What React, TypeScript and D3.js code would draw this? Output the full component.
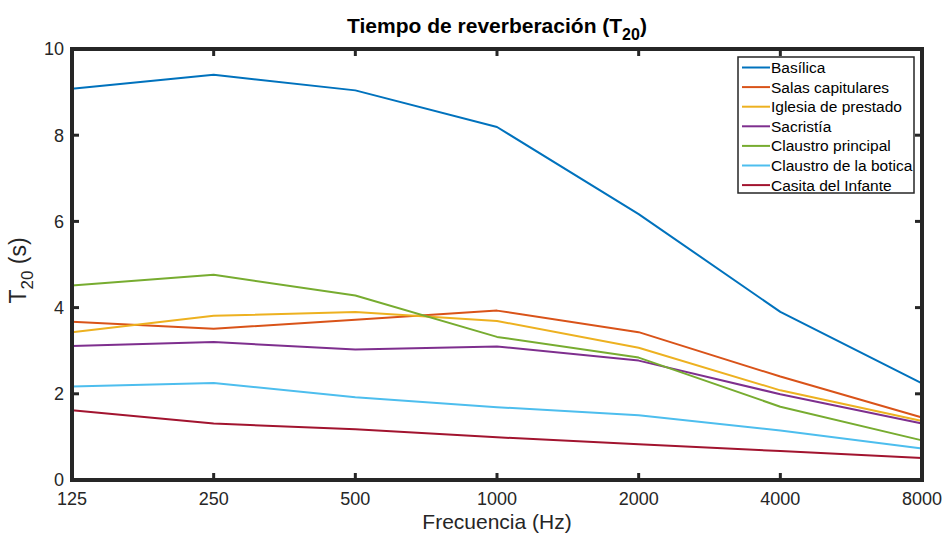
import { useEffect, useRef } from 'react';
import * as d3 from 'd3';

// frequencies (Hz) on the x axis
const frequencies = [125, 250, 500, 1000, 2000, 4000, 8000];
const yTicks = [0, 2, 4, 6, 8, 10];

// T20 (s) per room, one value per frequency band
const basilica = [9.08, 9.4, 9.04, 8.19, 6.17, 3.9, 2.24];
const salasCapitulares = [3.67, 3.51, 3.72, 3.93, 3.43, 2.4, 1.45];
const iglesiaPrestado = [3.43, 3.81, 3.9, 3.69, 3.07, 2.08, 1.37];
const sacristia = [3.11, 3.2, 3.03, 3.1, 2.77, 1.99, 1.31];
const claustroPrincipal = [4.51, 4.76, 4.28, 3.32, 2.84, 1.7, 0.92];
const claustroBotica = [2.17, 2.25, 1.92, 1.69, 1.5, 1.15, 0.73];
const casitaInfante = [1.62, 1.31, 1.18, 0.99, 0.83, 0.67, 0.51];

const seriesNames = [
  'Basílica',
  'Salas capitulares',
  'Iglesia de prestado',
  'Sacristía',
  'Claustro principal',
  'Claustro de la botica',
  'Casita del Infante',
];
const seriesValues = [
  basilica,
  salasCapitulares,
  iglesiaPrestado,
  sacristia,
  claustroPrincipal,
  claustroBotica,
  casitaInfante,
];
const seriesColors = ['#0072BD', '#D95319', '#EDB120', '#7E2F8E', '#77AC30', '#4DBEEE', '#A2142F'];

export default function App() {
  const svgRef = useRef<SVGSVGElement | null>(null);

  useEffect(() => {
    const svg = d3.select(svgRef.current);
    svg.selectAll('*').remove();

    const width = 944;
    const height = 533;
    const margin = { top: 49, right: 22, bottom: 53, left: 72 };
    const left = margin.left;
    const right = width - margin.right;
    const top = margin.top;
    const bottom = height - margin.bottom;
    const axisColor = '#262626';
    const font = '"Liberation Sans", Arial, Helvetica, sans-serif';

    svg.attr('width', width).attr('height', height).attr('viewBox', `0 0 ${width} ${height}`);
    svg.append('rect').attr('width', width).attr('height', height).attr('fill', '#fff');

    const x = d3.scaleLog().base(2).domain([125, 8000]).range([left, right]);
    const y = d3.scaleLinear().domain([0, 10]).range([bottom, top]);

    // data lines
    const line = d3
      .line<number>()
      .x((_, i) => x(frequencies[i]))
      .y((d) => y(d));

    seriesValues.forEach((vals, i) => {
      svg
        .append('path')
        .attr('d', line(vals))
        .attr('fill', 'none')
        .attr('stroke', seriesColors[i])
        .attr('stroke-width', 2)
        .attr('stroke-linejoin', 'round');
    });

    // ticks (inward, mirrored on all sides)
    const tl = 7;
    const ticks = svg.append('g').attr('stroke', axisColor).attr('stroke-width', 3);
    frequencies.forEach((f) => {
      ticks.append('line').attr('x1', x(f)).attr('x2', x(f)).attr('y1', bottom).attr('y2', bottom - tl);
      ticks.append('line').attr('x1', x(f)).attr('x2', x(f)).attr('y1', top).attr('y2', top + tl);
    });
    yTicks.forEach((t) => {
      ticks.append('line').attr('x1', left).attr('x2', left + tl).attr('y1', y(t)).attr('y2', y(t));
      ticks.append('line').attr('x1', right).attr('x2', right - tl).attr('y1', y(t)).attr('y2', y(t));
    });

    // box
    svg
      .append('rect')
      .attr('x', left)
      .attr('y', top)
      .attr('width', right - left)
      .attr('height', bottom - top)
      .attr('fill', 'none')
      .attr('stroke', axisColor)
      .attr('stroke-width', 4);

    // tick labels
    svg
      .append('g')
      .selectAll('text')
      .data(frequencies)
      .join('text')
      .attr('x', (d) => x(d))
      .attr('y', bottom + 25)
      .attr('text-anchor', 'middle')
      .attr('font-family', font)
      .attr('font-size', 18)
      .attr('fill', axisColor)
      .text((d) => String(d));

    svg
      .append('g')
      .selectAll('text')
      .data(yTicks)
      .join('text')
      .attr('x', left - 8)
      .attr('y', (d) => y(d))
      .attr('dy', '0.36em')
      .attr('text-anchor', 'end')
      .attr('font-family', font)
      .attr('font-size', 18)
      .attr('fill', axisColor)
      .text((d) => String(d));

    // axis labels
    svg
      .append('text')
      .attr('x', (left + right) / 2)
      .attr('y', 529)
      .attr('text-anchor', 'middle')
      .attr('font-family', font)
      .attr('font-size', 21)
      .attr('fill', axisColor)
      .text('Frecuencia (Hz)');

    const yLabel = svg
      .append('text')
      .attr('transform', `translate(26,${(top + bottom) / 2 + 6}) rotate(-90)`)
      .attr('text-anchor', 'middle')
      .attr('font-family', font)
      .attr('font-size', 23)
      .attr('fill', axisColor);
    yLabel.append('tspan').text('T');
    yLabel.append('tspan').attr('font-size', 17).attr('dy', 7).text('20');
    yLabel.append('tspan').attr('dy', -7).text(' (s)');

    // title
    const title = svg
      .append('text')
      .attr('x', (left + right) / 2)
      .attr('y', 33)
      .attr('text-anchor', 'middle')
      .attr('font-family', font)
      .attr('font-size', 21)
      .attr('font-weight', 'bold')
      .attr('fill', '#000');
    title.append('tspan').text('Tiempo de reverberación (T');
    title.append('tspan').attr('font-size', 16).attr('dy', 7).text('20');
    title.append('tspan').attr('dy', -7).text(')');

    // legend
    const legend = svg.append('g').attr('transform', 'translate(738,57)');
    legend
      .append('rect')
      .attr('width', 176)
      .attr('height', 136)
      .attr('fill', '#fff')
      .attr('stroke', axisColor)
      .attr('stroke-width', 1.5);

    seriesNames.forEach((name, i) => {
      const row = legend.append('g').attr('transform', `translate(0,${10.5 + i * 19.6})`);
      row
        .append('line')
        .attr('x1', 4)
        .attr('x2', 32)
        .attr('stroke', seriesColors[i])
        .attr('stroke-width', 2);
      row
        .append('text')
        .attr('x', 33)
        .attr('dy', '0.36em')
        .attr('font-family', font)
        .attr('font-size', 15.5)
        .attr('fill', '#000')
        .text(name);
    });

    return () => {
      svg.selectAll('*').remove();
    };
  }, []);

  return (
    <div style={{ position: 'absolute', left: 0, top: 0 }}>
      <svg ref={svgRef} style={{ display: 'block' }} />
    </div>
  );
}
